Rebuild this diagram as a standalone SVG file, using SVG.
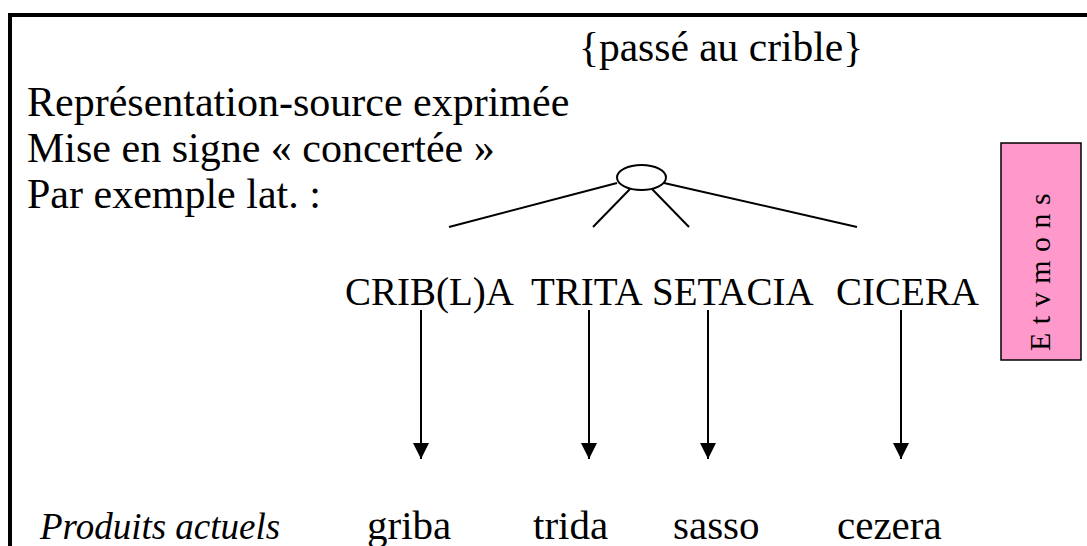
<svg xmlns="http://www.w3.org/2000/svg" width="1087" height="546" viewBox="0 0 1087 546">
<style>
.t{font-family:"Liberation Serif","Times New Roman",serif;fill:#000}
.l{stroke:#000;stroke-width:2;fill:none}
.a{stroke:#000;stroke-width:2;fill:none}
</style>
<defs>
<marker id="ah" markerWidth="16" markerHeight="16" refX="16" refY="8" orient="auto" markerUnits="userSpaceOnUse" viewBox="0 0 16 16">
<path d="M0,0 L16,8 L0,16 Z" fill="#000"/>
</marker>
</defs>
<rect width="1087" height="546" fill="#fff"/>
<g id="frame">
<path d="M10,546 V15 H1087" stroke="#000" stroke-width="4" fill="none"/>
</g>
<g id="header">
<text class="t" x="579" y="61" font-size="41.5">{passé au crible}</text>
<text class="t" x="27" y="116" font-size="42">Représentation-source exprimée</text>
<text class="t" x="27" y="162" font-size="42">Mise en signe « concertée »</text>
<text class="t" x="27" y="208" font-size="42">Par exemple lat. :</text>
</g>
<g id="root">
<ellipse cx="641.5" cy="177.5" rx="24.5" ry="12.5" class="l"/>
</g>
<g id="etymons">
<rect x="1001" y="143" width="80" height="217" fill="#FF99CC" stroke="#000" stroke-width="1.5"/>
<text class="t" font-size="30" letter-spacing="8.5" transform="translate(1050,351) rotate(-90)">Etvmons</text>
</g>
<g id="etyma">
<text class="t" x="345" y="305" font-size="39">CRIB(L)A</text>
<text class="t" x="531" y="305" font-size="39">TRITA</text>
<text class="t" x="652" y="305" font-size="39">SETACIA</text>
<text class="t" x="836" y="305" font-size="39">CICERA</text>
</g>
<g id="products">
<text class="t" x="40" y="539" font-size="37" font-style="italic">Produits actuels</text>
<text class="t" x="367" y="539" font-size="41">griba</text>
<text class="t" x="533" y="539" font-size="41">trida</text>
<text class="t" x="673" y="539" font-size="41">sasso</text>
<text class="t" x="837" y="539" font-size="41">cezera</text>
</g>
<g id="connectors">
<line x1="617" y1="183" x2="449" y2="227" class="l"/>
<line x1="630" y1="189" x2="593" y2="227" class="l"/>
<line x1="652" y1="189" x2="689" y2="227" class="l"/>
<line x1="664" y1="183" x2="857" y2="227" class="l"/>
<line x1="421" y1="310" x2="421" y2="459" class="a" marker-end="url(#ah)"/>
<line x1="589" y1="310" x2="589" y2="459" class="a" marker-end="url(#ah)"/>
<line x1="708" y1="310" x2="708" y2="459" class="a" marker-end="url(#ah)"/>
<line x1="901" y1="310" x2="901" y2="459" class="a" marker-end="url(#ah)"/>
</g>
</svg>
